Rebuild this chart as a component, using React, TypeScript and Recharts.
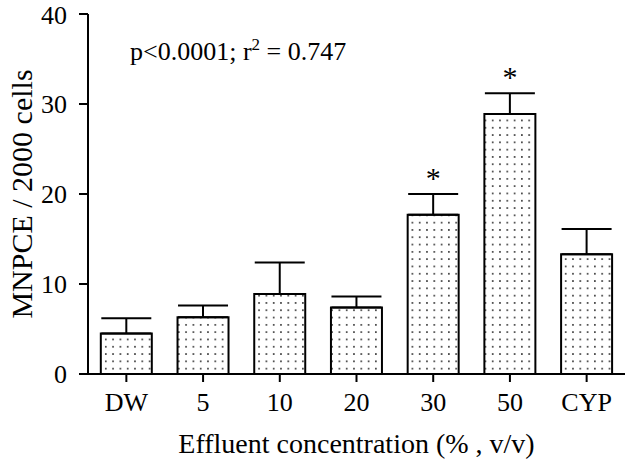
import { BarChart, Bar, XAxis, YAxis, ErrorBar, LabelList, Customized } from "recharts";

// values
const doses = ["DW", "5", "10", "20", "30", "50", "CYP"];
const mnpce = [4.5, 6.3, 8.9, 7.4, 17.7, 28.9, 13.3];
const sem = [1.7, 1.3, 3.5, 1.2, 2.3, 2.3, 2.8];
const significant = [false, false, false, false, true, true, false];
const yTicks = [0, 10, 20, 30, 40];

const chartData = doses.map((dose, i) => ({
  dose,
  mean: mnpce[i],
  err: [0, sem[i]],
  star: significant[i] ? "*" : "",
}));

const FONT = "'Liberation Serif', 'Times New Roman', serif";
const TICK_FS = 26;
const LABEL_FS = 28;

// asterisk sits above the upper whisker; px per unit taken from the bar itself
const StarLabel = (props: any) => {
  const { x, y, width, height, index, value } = props;
  if (!value) return null;
  const pxPerUnit = height / mnpce[index];
  const topY = y - sem[index] * pxPerUnit;
  return (
    <text x={x + width / 2} y={topY - 6} textAnchor="middle" fontFamily={FONT} fontSize={30} fill="#000">
      {value}
    </text>
  );
};

const StatsNote = () => (
  <text x={130} y={60} fontFamily={FONT} fontSize={26} fill="#000">
    p&lt;0.0001; r
    <tspan dy={-10} fontSize={17}>2</tspan>
    <tspan dy={10}> = 0.747</tspan>
  </text>
);

const App = () => {
  return (
    <div style={{ position: "absolute", left: 0, top: 0 }}>
      <BarChart
        width={625}
        height={467}
        data={chartData}
        margin={{ top: 14, right: 0, bottom: 0, left: 0 }}
        barCategoryGap="16.7%"
      >
        <defs>
          <pattern id="dots" width="7.3" height="7.3" patternUnits="userSpaceOnUse">
            <rect width="7.3" height="7.3" fill="#fff" />
            <circle cx="3.6" cy="3.6" r="0.9" fill="#222" />
          </pattern>
        </defs>
        <XAxis
          dataKey="dose"
          height={93}
          axisLine={{ stroke: "#000", strokeWidth: 2 }}
          tickLine={{ stroke: "#000", strokeWidth: 2 }}
          tickSize={8}
          tickMargin={11}
          tick={{ fill: "#000", fontFamily: FONT, fontSize: TICK_FS }}
          interval={0}
          label={{
            value: "Effluent concentration (% , v/v)",
            position: "insideBottom",
            offset: 14,
            style: { fill: "#000", fontFamily: FONT, fontSize: LABEL_FS },
          }}
        />
        <YAxis
          width={88}
          domain={[0, 40]}
          ticks={yTicks}
          axisLine={{ stroke: "#000", strokeWidth: 2 }}
          tickLine={{ stroke: "#000", strokeWidth: 2 }}
          tickSize={9}
          tickMargin={12}
          tick={{ fill: "#000", fontFamily: FONT, fontSize: TICK_FS }}
          label={{
            value: "MNPCE / 2000 cells",
            angle: -90,
            position: "insideLeft",
            offset: 21,
            style: { fill: "#000", fontFamily: FONT, fontSize: 30, textAnchor: "middle" },
          }}
        />
        <Bar dataKey="mean" fill="url(#dots)" stroke="#000" strokeWidth={2} isAnimationActive={false}>
          <ErrorBar dataKey="err" direction="y" width={25} stroke="#000" strokeWidth={2} />
          <LabelList dataKey="star" content={StarLabel} />
        </Bar>
        <Customized component={StatsNote} />
      </BarChart>
    </div>
  );
};

export default App;
